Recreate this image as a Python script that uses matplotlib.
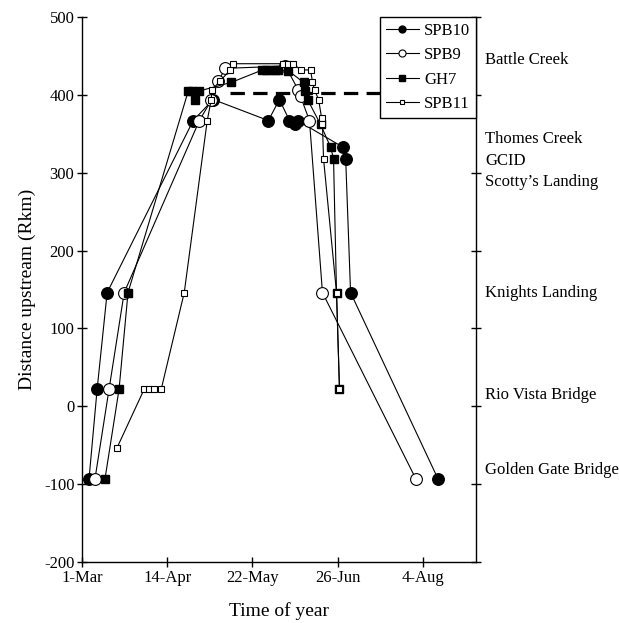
import matplotlib
matplotlib.use('Agg')
import matplotlib.pyplot as plt
import matplotlib.transforms as mtransforms

plt.rcParams['font.family'] = ['Liberation Serif', 'DejaVu Serif']
plt.rcParams['axes.unicode_minus'] = False

# x = days after 1-Mar on the chart's own scale, y = distance upstream (Rkm)
spb10_x = [3.3, 7.1, 11.8, 52.2, 61.6, 87.5, 92.7, 97.4, 99.8, 101.2, 122.4, 123.8, 126.1, 167.1]
spb10_y = [-93, 22, 146, 367, 394, 367, 394, 367, 362, 367, 333, 318, 146, -93]

spb9_x = [6.1, 12.7, 19.8, 55.1, 60.7, 64.0, 67.3, 95.5, 101.6, 102.6, 106.8, 112.9, 156.7]
spb9_y = [-93, 22, 146, 367, 393, 418, 434, 437, 406, 398, 367, 146, -93]

gh7_x = [10.8, 17.4, 21.6, 49.9, 51.8, 53.2, 55.1, 70.1, 84.7, 86.6, 88.5, 90.4, 92.2,
         96.9, 104.0, 104.5, 105.9, 112.0, 116.7, 118.1, 119.5, 120.9]
gh7_y = [-93, 22, 146, 405, 405, 394, 405, 416, 432, 432, 432, 432, 432,
         431, 416, 405, 394, 362, 333, 318, 146, 22]

spb11_x = [16.5, 29.2, 31.5, 33.9, 37.2, 48.0, 58.8, 60.7, 60.9, 64.9, 69.6, 71.1, 94.6, 96.9,
           99.3, 102.6, 107.3, 108.2, 109.2, 111.1, 112.5, 112.9, 113.4, 119.5, 120.9]
spb11_y = [-53, 22, 22, 22, 22, 146, 367, 394, 406, 418, 432, 440, 440, 440,
           440, 432, 432, 417, 406, 394, 370, 362, 318, 146, 22]

dam_x = [69.6, 185]
dam_y = [402, 402]

tick_pos = [0, 40, 80, 120, 160]
tick_labels = ['1-Mar', '14-Apr', '22-May', '26-Jun', '4-Aug']

sites = ['Battle Creek', 'Thomes Creek', 'GCID', "Scotty\u2019s Landing",
         'Knights Landing', 'Rio Vista Bridge', 'Golden Gate Bridge']
site_y = [445, 343, 315, 288, 146, 15, -82]

fig = plt.figure(figsize=(6.19, 6.23), dpi=100)
ax = fig.add_axes([0.1325, 0.098, 0.6365, 0.8747])

lw = 0.8
ax.plot(dam_x, dam_y, color='black', lw=2.3, dashes=(4.5, 2.6), zorder=1)
ax.plot(spb10_x, spb10_y, '-o', color='black', lw=lw, ms=8.3, mfc='black', mec='black',
        label='SPB10', zorder=2)
ax.plot(spb9_x, spb9_y, '-o', color='black', lw=lw, ms=8.5, mfc='white', mec='black',
        mew=0.8, label='SPB9', zorder=3)
ax.plot(gh7_x, gh7_y, '-s', color='black', lw=lw, ms=6.3, mfc='black', mec='black',
        label='GH7', zorder=4)
ax.plot(spb11_x, spb11_y, '-s', color='black', lw=lw, ms=4.3, mfc='white', mec='black',
        mew=0.8, label='SPB11', zorder=5)

ax.set_xlim(0, 185)
ax.set_ylim(-200, 500)
ax.set_xticks(tick_pos)
ax.set_xticklabels(tick_labels)
ax.set_yticks(range(-200, 501, 100))

ax.spines['top'].set_visible(False)
for side in ['left', 'bottom', 'right']:
    ax.spines[side].set_linewidth(1.0)

ax.tick_params(direction='inout', length=7, width=1.0, labelsize=12, right=True,
               labelright=False, pad=2)

ax.set_xlabel('Time of year', fontsize=14, labelpad=12)
ax.set_ylabel('Distance upstream (Rkm)', fontsize=14, labelpad=6)

trans = mtransforms.blended_transform_factory(ax.transAxes, ax.transData)
for name, yv in zip(sites, site_y):
    ax.text(1.023, yv, name, transform=trans, ha='left', va='center', fontsize=12)

leg = ax.legend(loc='upper right', borderaxespad=0, fontsize=12, frameon=True,
                fancybox=False, edgecolor='black', framealpha=1, markerscale=0.6,
                handlelength=2.0, handletextpad=0.3, labelspacing=0.5,
                borderpad=0.35)
leg.get_frame().set_linewidth(1.0)
leg.set_zorder(10)

fig.savefig('out.png', dpi=100)
